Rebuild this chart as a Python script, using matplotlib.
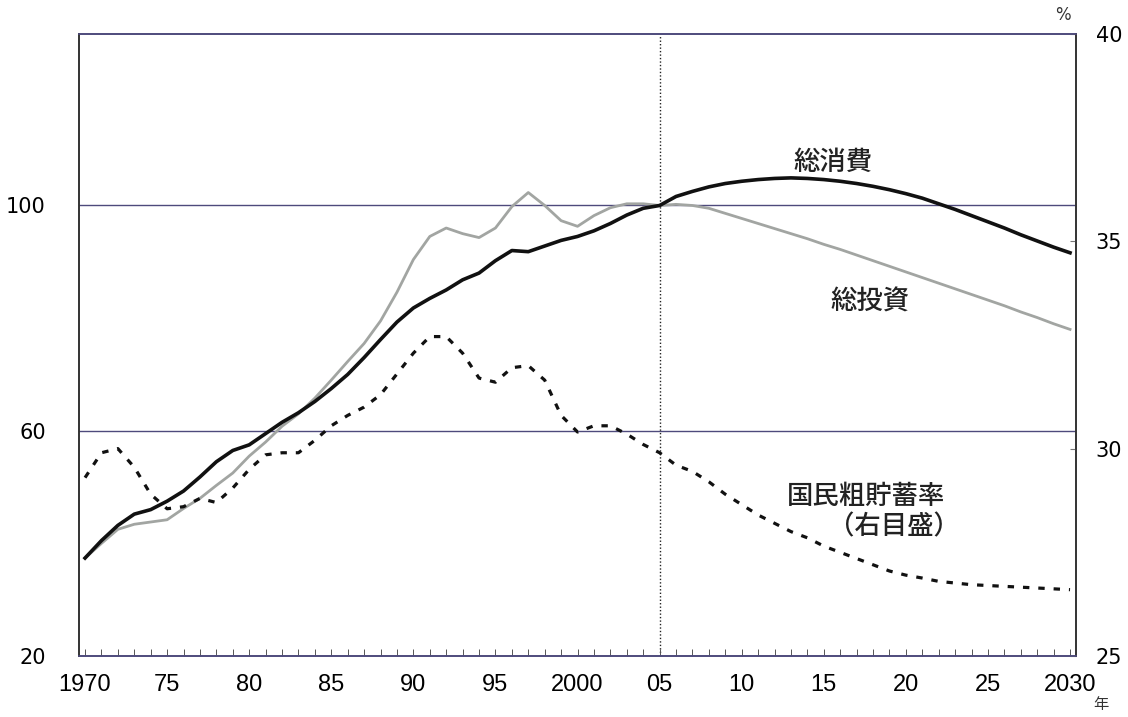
import numpy as np
import matplotlib
matplotlib.use('Agg')
import matplotlib.pyplot as plt
from matplotlib import font_manager
from matplotlib.ticker import MultipleLocator

plt.rcParams['font.family'] = ['Noto Sans CJK JP', 'DejaVu Sans']

years = list(range(1970, 2031))

# 総消費 (2005=100)
shohi = [37.4, 40.5, 43.2, 45.2, 46.0, 47.5, 49.3, 51.8, 54.5, 56.5,
         57.5, 59.5, 61.5, 63.2, 65.2, 67.5, 70.0, 73.0, 76.2, 79.3,
         81.8, 83.5, 85.0, 86.8, 88.0, 90.2, 92.0, 91.8, 92.8, 93.8,
         94.5, 95.5, 96.8, 98.3, 99.5, 100.0, 101.6, 102.5, 103.3, 103.9,
         104.3, 104.6, 104.8, 104.9, 104.8, 104.6, 104.3, 103.9, 103.4, 102.8,
         102.1, 101.3, 100.3, 99.3, 98.2, 97.1, 96.0, 94.8, 93.7, 92.6,
         91.6]

# 総投資 (2005=100)
toshi = [37.4, 40.0, 42.5, 43.4, 43.8, 44.2, 46.2, 48.0, 50.3, 52.5,
         55.5, 58.0, 60.8, 63.0, 65.8, 69.0, 72.3, 75.5, 79.5, 84.6,
         90.4, 94.5, 96.0, 95.0, 94.3, 96.0, 99.8, 102.3, 100.0, 97.3,
         96.3, 98.2, 99.6, 100.3, 100.3, 100.0, 100.2, 100.0, 99.5, 98.6,
         97.7, 96.8, 95.9, 95.0, 94.1, 93.1, 92.2, 91.2, 90.2, 89.2,
         88.2, 87.2, 86.2, 85.2, 84.2, 83.2, 82.2, 81.1, 80.1, 79.0,
         78.0]

# 国民粗貯蓄率 (%, 右目盛)
chochiku = [29.3, 29.9, 30.0, 29.55, 28.9, 28.55, 28.6, 28.8, 28.7, 29.05,
            29.5, 29.85, 29.9, 29.9, 30.2, 30.55, 30.8, 31.0, 31.3, 31.8,
            32.3, 32.7, 32.7, 32.3, 31.7, 31.6, 31.95, 32.0, 31.65, 30.8,
            30.4, 30.55, 30.55, 30.35, 30.1, 29.9, 29.6, 29.45, 29.2, 28.9,
            28.65, 28.4, 28.2, 28.0, 27.85, 27.65, 27.5, 27.35, 27.2, 27.05,
            26.95, 26.88, 26.8, 26.76, 26.72, 26.7, 26.68, 26.66, 26.64, 26.62,
            26.6]

xticks = [1970, 1975, 1980, 1985, 1990, 1995, 2000, 2005, 2010, 2015, 2020, 2025, 2030]
xticklabels = ['1970', '75', '80', '85', '90', '95', '2000', '05', '10', '15', '20', '25', '2030']

names = [f.name for f in font_manager.fontManager.ttflist]
narrow = 'Liberation Sans Narrow' if 'Liberation Sans Narrow' in names else 'Liberation Sans'

fig = plt.figure(figsize=(11.28, 7.17), dpi=100)
ax = fig.add_axes([0.070, 0.085, 0.884, 0.868])
ax2 = ax.twinx()

gridc = '#4e4a7c'
ax.axhline(60, color=gridc, lw=1.0, zorder=1)
ax.axhline(100, color=gridc, lw=1.0, zorder=1)
ax.axvline(2005, color='#222222', lw=1.0, ls=(0, (1, 1.5)), zorder=1)

ax.plot(years, toshi, color='#a2a5a2', lw=2.0, zorder=3)
ax.plot(years, shohi, color='#111111', lw=2.6, zorder=4)
ax2.plot(years, chochiku, color='#111111', lw=2.3, ls=(0, (2, 2.8)), zorder=4)

ax.set_xlim(1969.63, 2030.37)
ax.set_ylim(20, 130.5)
ax2.set_ylim(25, 40)

ax.set_xticks(xticks)
ax.set_xticklabels(xticklabels, fontfamily=narrow, fontsize=17)
ax.xaxis.set_minor_locator(MultipleLocator(1))
ax.tick_params(axis='x', which='both', direction='in', length=5, width=0.7,
               color='#555555', pad=13)
ax.set_yticks([20, 60, 100])
ax.set_yticklabels(['20', '60', '100'], fontfamily='DejaVu Sans', fontsize=15)
ax.tick_params(axis='y', length=0, pad=24)
ax2.set_yticks([25, 30, 35, 40])
ax2.set_yticklabels(['25', '30', '35', '40'], fontfamily='DejaVu Sans', fontsize=15)
ax2.tick_params(axis='y', direction='in', length=4, color='#777777', pad=14)

for a in (ax, ax2):
    a.spines['left'].set_color('#333333')
    a.spines['right'].set_color('#333333')
    a.spines['top'].set_color(gridc)
    a.spines['bottom'].set_color(gridc)
    for s in a.spines.values():
        s.set_linewidth(1.2)

lab = dict(fontsize=19, fontweight='medium', va='center', color='#222222')
ax.text(2015.55, 107.6, '総消費', ha='center', **lab)
ax.text(2017.8, 82.8, '総投資', ha='center', **lab)
ax2.text(2017.56, 28.84, '国民粗貯蓄率', ha='center', **lab)
ax2.text(2023.3, 28.12, '（右目盛）', ha='right', **lab)

fig.text(1063 / 1128, 1 - 15 / 717, '%', fontsize=12, ha='center', va='center',
         fontfamily='DejaVu Sans', color='#333333')
fig.text(1101 / 1128, 1 - 704 / 717, '年', fontsize=11, ha='center', va='center', color='#333333')

fig.savefig('out.png', dpi=100)
